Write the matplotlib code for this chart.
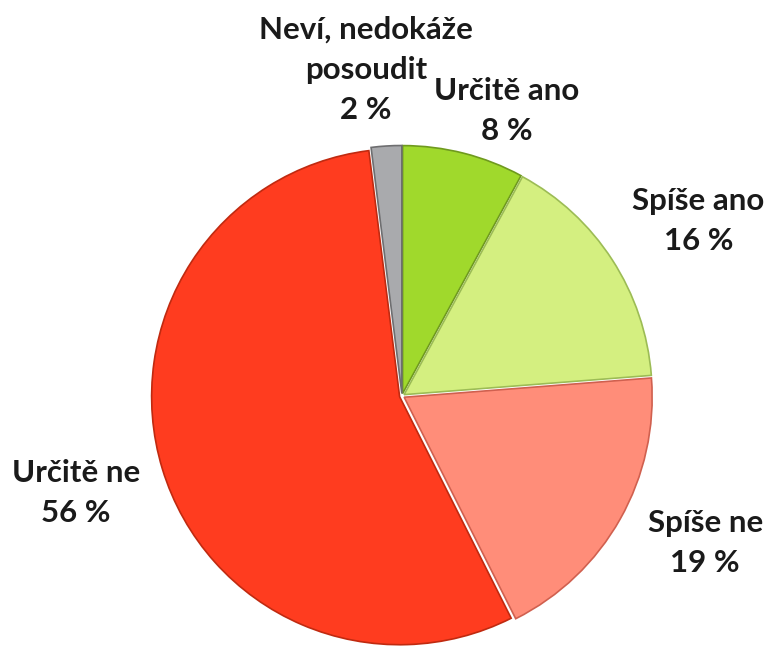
import matplotlib
matplotlib.use("Agg")
import matplotlib.pyplot as plt

# data
labels = ["Určitě ano", "Spíše ano", "Spíše ne", "Určitě ne", "Neví, nedokáže\nposoudit"]
values = [8, 16, 19, 56, 2]
colors = ["#a0d92c", "#d4ef80", "#ff8d79", "#ff3c1f", "#a9aaad"]
edges = ["#6f9a1e", "#9cbc55", "#d0604f", "#c02a10", "#6e6e70"]

# label block centres in axes fractions (layout only)
label_pos = [(0.659, 0.828), (0.908, 0.658), (0.917, 0.161), (0.099, 0.238), (0.476, 0.892)]

plt.rcParams['font.family'] = ['Lato', 'DejaVu Sans']

W, H = 769, 647
fig = plt.figure(figsize=(W / 100, H / 100), dpi=100)
ax = fig.add_axes([0, 0, 1, 1])

wedges, _ = ax.pie(values, colors=colors, startangle=90, counterclock=False,
                   explode=[0.01] * len(values), radius=1.0,
                   wedgeprops=dict(linewidth=1.2))
for w, ec in zip(wedges, edges):
    w.set_edgecolor(ec)

# pie sets its own limits, so override afterwards
cx, cy, r = 402, 396, 248  # pie centre / radius in pixels
ax.set_aspect("auto")
ax.set_xlim(-cx / r, (W - cx) / r)
ax.set_ylim(-(H - cy) / r, cy / r)
ax.axis("off")

# one text per line so the label blocks do not overlap each other
line_step = 40 / H
for lab, v, (x, y) in zip(labels, values, label_pos):
    lines = lab.split("\n") + [f"{v} %"]
    top = y + line_step * (len(lines) - 1) / 2
    for i, line in enumerate(lines):
        ax.text(x, top - i * line_step, line, transform=ax.transAxes,
                ha="center", va="center", fontsize=22.5, fontweight="bold",
                color="#1a1a1a")

fig.savefig("out.png", dpi=100, facecolor="white")
